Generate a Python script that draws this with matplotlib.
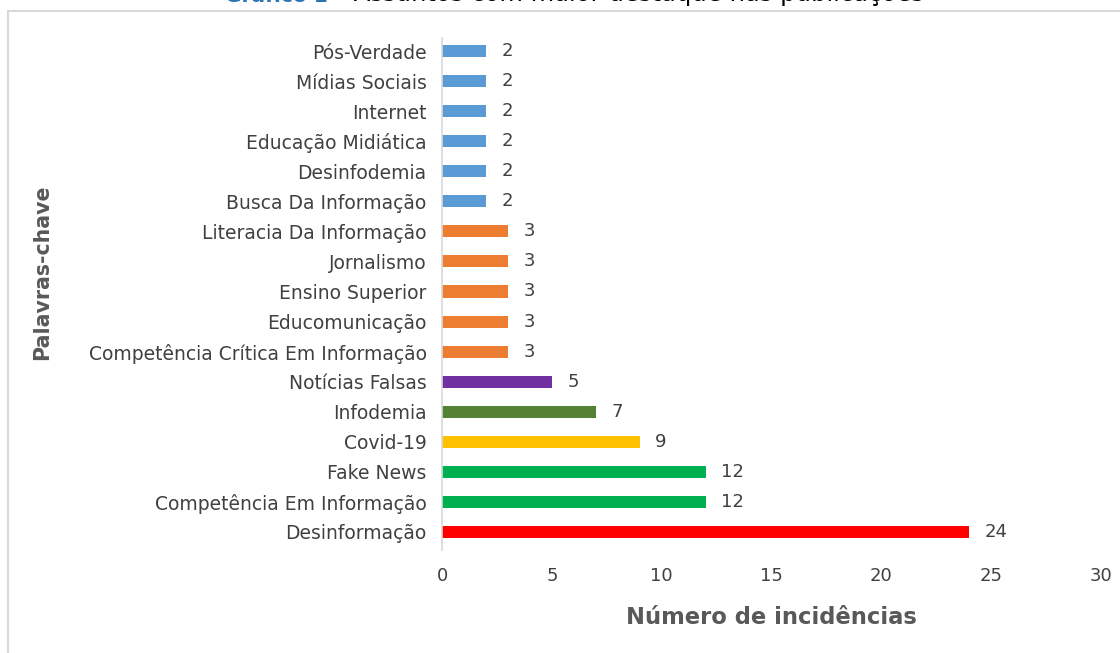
import matplotlib
matplotlib.use("Agg")
import matplotlib.pyplot as plt
from matplotlib.patches import Rectangle

plt.rcParams['font.family'] = ['DejaVu Sans']

# keywords, bottom to top as drawn
keywords = [
    'Desinformação', 'Competência Em Informação', 'Fake News', 'Covid-19',
    'Infodemia', 'Notícias Falsas', 'Competência Crítica Em Informação',
    'Educomunicação', 'Ensino Superior', 'Jornalismo', 'Literacia Da Informação',
    'Busca Da Informação', 'Desinfodemia', 'Educação Midiática', 'Internet',
    'Mídias Sociais', 'Pós-Verdade',
]
counts = [24, 12, 12, 9, 7, 5, 3, 3, 3, 3, 3, 2, 2, 2, 2, 2, 2]
bar_colors = ['#FF0000', '#00B050', '#00B050', '#FFC000', '#548235', '#7030A0',
              '#ED7D31', '#ED7D31', '#ED7D31', '#ED7D31', '#ED7D31',
              '#5B9BD5', '#5B9BD5', '#5B9BD5', '#5B9BD5', '#5B9BD5', '#5B9BD5']
x_ticks = [0, 5, 10, 15, 20, 25, 30]

W, H = 1120, 653
fig = plt.figure(figsize=(W / 100, H / 100), dpi=100)
fig.patch.set_facecolor('white')

# outer chart frame (cut off at right/bottom like the screenshot)
fig.patches.append(Rectangle((8 / W, -0.1), 1.2, 1 - 11 / H + 0.1,
                             transform=fig.transFigure, fill=False,
                             ec='#d9d9d9', lw=1.5))

# partly cropped caption at the very top
fig.text(328 / W, 1 - 1.5 / H, 'Gráfico 1', color='#2E74B5', fontsize=14.5,
         fontweight='bold', ha='right', va='baseline')
fig.text(334 / W, 1 - 1.5 / H, '– Assuntos com maior destaque nas publicações',
         color='black', fontsize=17.5, ha='left', va='baseline')

ax = fig.add_axes([442 / W, 1 - 550 / H, (1101 - 442) / W, (550 - 37.5) / H])
ypos = list(range(len(keywords)))
ax.barh(ypos, counts, height=0.4, color=bar_colors)

for y, v in zip(ypos, counts):
    ax.text(v + 0.7, y, str(v), va='center', ha='left', fontsize=13,
            color='#404040')

ax.set_xlim(0, 30)
ax.set_ylim(-0.6, 16.45)
ax.set_xticks(x_ticks)
ax.set_yticks(ypos)
ax.set_yticklabels(keywords)
ax.tick_params(axis='both', length=0, labelcolor='#404040')
ax.tick_params(axis='x', pad=12, labelsize=13)
ax.tick_params(axis='y', pad=11, labelsize=13.5)
for s in ['top', 'right', 'bottom']:
    ax.spines[s].set_visible(False)
ax.spines['left'].set_color('#d9d9d9')
ax.spines['left'].set_linewidth(1.2)

ax.set_xlabel('Número de incidências', fontsize=16.3, fontweight='bold',
              color='#595959', labelpad=15)
fig.text(42 / W, 1 - 272 / H, 'Palavras-chave', rotation=90, fontsize=14.8,
         fontweight='bold', color='#595959', ha='center', va='center')

fig.savefig('out.png', dpi=100, facecolor='white')
